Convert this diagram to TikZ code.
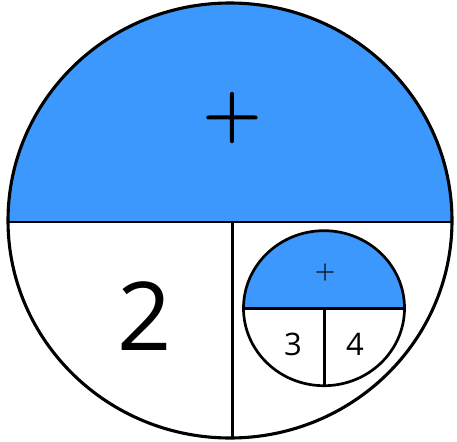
\documentclass[tikz,border=0pt]{standalone}
\usepackage{fontspec}
\setmainfont{Open Sans}
\newfontfamily\plusfont[FakeBold=1.5]{Latin Modern Roman}
\definecolor{fillblue}{RGB}{60,152,252}
\begin{document}
\begin{tikzpicture}[x=1pt,y=-1pt,
  ring/.style={draw=black,line width=3.1pt},
  divider/.style={draw=black,line width=2.9pt},
  thin ring/.style={draw=black,line width=2.7pt},
  thin divider/.style={draw=black,line width=2.5pt},
  lbl/.style={inner sep=0pt,text=black}]
\useasboundingbox (0,0) rectangle (457,441);
% outer circle
\coordinate (C) at (230,220.5);
\begin{scope}
  \clip (C) ellipse [x radius=222, y radius=217.5];
  \fill[fillblue] (0,0) rectangle (457,222);
\end{scope}
\coordinate (hl) at (0,222);
\coordinate (hr) at (460,222);
\begin{scope}
  \clip (C) ellipse [x radius=222, y radius=217.5];
  \draw[divider] (hl) -- (hr);
  \draw[divider] (232.5,222) -- (232.5,445);
\end{scope}
\draw[ring] (C) ellipse [x radius=222, y radius=217.5];
% inner circle
\coordinate (c) at (324,308.2);
\begin{scope}
  \clip (c) ellipse [x radius=80.5, y radius=77.5];
  \fill[fillblue] (240,225) rectangle (410,308.5);
  \draw[thin divider] (240,308.5) -- (410,308.5);
  \draw[thin divider] (324.5,308.5) -- (324.5,390);
\end{scope}
\draw[thin ring] (c) ellipse [x radius=80.5, y radius=77.5];
% labels
\node[lbl,font=\plusfont\fontsize{80}{80}\selectfont] (plus) at (232,117.5) {+};
\node[lbl,font=\fontsize{95}{95}\selectfont] (two) at (145,316) {2};
\node[lbl,font=\plusfont\fontsize{27}{27}\selectfont] (plussmall) at (325,272) {+};
\node[lbl,font=\fontsize{31}{31}\selectfont] (three) at (293,344) {3};
\node[lbl,font=\fontsize{31}{31}\selectfont] (four) at (355,344) {4};
\end{tikzpicture}
\end{document}
